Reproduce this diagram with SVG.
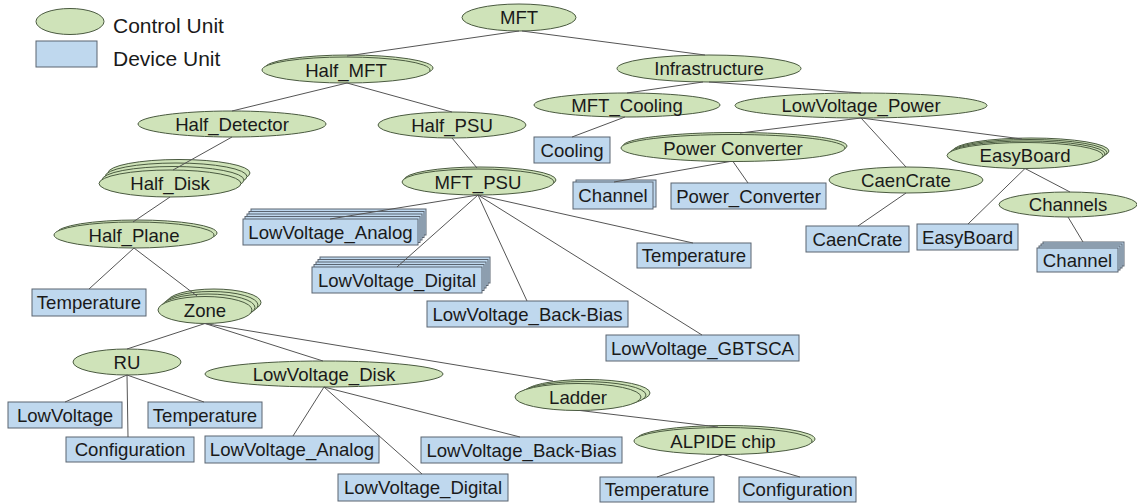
<svg xmlns="http://www.w3.org/2000/svg" width="1137" height="504" viewBox="0 0 1137 504">
  <style>
    .cu { fill: #cfe3b9; stroke: #4a5a40; stroke-width: 1; }
    .du { fill: #bfd8ee; stroke: #5a6470; stroke-width: 1; }
    .lbl { font-family: "Liberation Sans", Arial, sans-serif; font-size: 18.6px; fill: #1a1a1a; text-anchor: middle; }
    .leg { font-family: "Liberation Sans", Arial, sans-serif; font-size: 21px; fill: #1a1a1a; }
    .edge { stroke: #555; stroke-width: 1; fill: none; }
  </style>
  <rect width="1137" height="504" fill="#ffffff"/>

  <!-- legend -->
  <g id="legend">
    <ellipse class="cu" cx="70" cy="21.5" rx="34" ry="13"/>
    <text class="leg" x="113" y="33">Control Unit</text>
    <rect class="du" x="36" y="41" width="61" height="26"/>
    <text class="leg" x="113" y="66">Device Unit</text>
  </g>

  <!-- control units -->
  <g id="mft">
    <ellipse class="cu" cx="519" cy="17.5" rx="57" ry="13.5"/>
    <text class="lbl" x="519" y="24">MFT</text>
  </g>
  <g id="half_mft">
    <ellipse class="cu" cx="349" cy="68" rx="84" ry="13"/>
    <ellipse class="cu" cx="346" cy="70" rx="84" ry="13"/>
    <text class="lbl" x="346" y="76.5">Half_MFT</text>
  </g>
  <g id="infrastructure">
    <ellipse class="cu" cx="709" cy="68.5" rx="92" ry="13.5"/>
    <text class="lbl" x="709" y="75">Infrastructure</text>
  </g>
  <g id="half_detector">
    <ellipse class="cu" cx="232" cy="124" rx="94" ry="13"/>
    <text class="lbl" x="232" y="130.5">Half_Detector</text>
  </g>
  <g id="half_psu">
    <ellipse class="cu" cx="452" cy="125" rx="74" ry="13"/>
    <text class="lbl" x="452" y="131.5">Half_PSU</text>
  </g>
  <g id="mft_cooling">
    <ellipse class="cu" cx="627" cy="105" rx="93" ry="12"/>
    <text class="lbl" x="627" y="111.5">MFT_Cooling</text>
  </g>
  <g id="lowvoltage_power">
    <ellipse class="cu" cx="861" cy="105.5" rx="126" ry="12.5"/>
    <text class="lbl" x="861" y="112">LowVoltage_Power</text>
  </g>
  <g id="power_converter_cu">
    <ellipse class="cu" cx="735" cy="146" rx="112" ry="13.5"/>
    <ellipse class="cu" cx="733" cy="148" rx="112" ry="13.5"/>
    <text class="lbl" x="733" y="154.5">Power Converter</text>
  </g>
  <g id="caencrate_cu">
    <ellipse class="cu" cx="906" cy="180" rx="77" ry="13"/>
    <text class="lbl" x="906" y="186.5">CaenCrate</text>
  </g>
  <g id="easyboard_cu">
    <ellipse class="cu" cx="1031" cy="151" rx="78" ry="13"/>
    <ellipse class="cu" cx="1029" cy="152.5" rx="78" ry="13"/>
    <ellipse class="cu" cx="1027" cy="154" rx="78" ry="13"/>
    <ellipse class="cu" cx="1025" cy="155.5" rx="78" ry="13"/>
    <text class="lbl" x="1025" y="162">EasyBoard</text>
  </g>
  <g id="channels">
    <ellipse class="cu" cx="1068" cy="204.5" rx="69" ry="12.5"/>
    <text class="lbl" x="1068" y="211">Channels</text>
  </g>
  <g id="half_disk">
    <ellipse class="cu" cx="179" cy="173" rx="71" ry="13.5"/>
    <ellipse class="cu" cx="176" cy="176.5" rx="71" ry="13.5"/>
    <ellipse class="cu" cx="173" cy="180" rx="71" ry="13.5"/>
    <ellipse class="cu" cx="170" cy="183.5" rx="71" ry="13.5"/>
    <text class="lbl" x="170" y="190">Half_Disk</text>
  </g>
  <g id="half_plane">
    <ellipse class="cu" cx="137" cy="233" rx="80" ry="13"/>
    <ellipse class="cu" cx="134" cy="235" rx="80" ry="13"/>
    <text class="lbl" x="134" y="241.5">Half_Plane</text>
  </g>
  <g id="mft_psu">
    <ellipse class="cu" cx="480" cy="180" rx="76" ry="13"/>
    <ellipse class="cu" cx="478" cy="182" rx="76" ry="13"/>
    <text class="lbl" x="478" y="188.5">MFT_PSU</text>
  </g>
  <g id="zone">
    <ellipse class="cu" cx="214" cy="302.5" rx="47" ry="13.5"/>
    <ellipse class="cu" cx="211" cy="305" rx="47" ry="13.5"/>
    <ellipse class="cu" cx="208" cy="307.5" rx="47" ry="13.5"/>
    <ellipse class="cu" cx="205" cy="310" rx="47" ry="13.5"/>
    <text class="lbl" x="205" y="316.5">Zone</text>
  </g>
  <g id="ru">
    <ellipse class="cu" cx="127" cy="362" rx="54" ry="13"/>
    <text class="lbl" x="127" y="368.5">RU</text>
  </g>
  <g id="lowvoltage_disk">
    <ellipse class="cu" cx="324" cy="374" rx="119" ry="13"/>
    <text class="lbl" x="324" y="380.5">LowVoltage_Disk</text>
  </g>
  <g id="ladder">
    <ellipse class="cu" cx="587" cy="393" rx="63" ry="13.5"/>
    <ellipse class="cu" cx="583" cy="395" rx="63" ry="13.5"/>
    <ellipse class="cu" cx="578" cy="397" rx="63" ry="13.5"/>
    <text class="lbl" x="578" y="403.5">Ladder</text>
  </g>
  <g id="alpide_chip">
    <ellipse class="cu" cx="726" cy="439" rx="89" ry="13.5"/>
    <ellipse class="cu" cx="723" cy="441" rx="89" ry="13.5"/>
    <text class="lbl" x="723" y="447.5">ALPIDE chip</text>
  </g>

  <!-- device units -->
  <g id="cooling">
    <rect class="du" x="534" y="137" width="76" height="26"/>
    <text class="lbl" x="572" y="156.5">Cooling</text>
  </g>
  <g id="channel_pc">
    <rect class="du" x="576" y="180" width="80" height="27"/>
    <rect class="du" x="573" y="182" width="80" height="27"/>
    <text class="lbl" x="613" y="202">Channel</text>
  </g>
  <g id="power_converter_du">
    <rect class="du" x="671" y="183" width="155" height="26"/>
    <text class="lbl" x="748.5" y="202.5">Power_Converter</text>
  </g>
  <g id="caencrate_du">
    <rect class="du" x="806" y="226" width="103" height="26"/>
    <text class="lbl" x="857.5" y="245.5">CaenCrate</text>
  </g>
  <g id="easyboard_du">
    <rect class="du" x="917" y="224" width="101" height="26"/>
    <text class="lbl" x="967.5" y="243.5">EasyBoard</text>
  </g>
  <g id="channel_stack">
    <rect class="du" x="1043" y="242" width="81" height="24"/>
    <rect class="du" x="1041" y="244" width="81" height="24"/>
    <rect class="du" x="1039" y="246" width="81" height="24"/>
    <rect class="du" x="1037" y="248" width="81" height="24"/>
    <text class="lbl" x="1077.5" y="266.5">Channel</text>
  </g>
  <g id="lv_analog_psu">
    <rect class="du" x="251" y="209" width="175" height="26"/>
    <rect class="du" x="249" y="211.5" width="175" height="26"/>
    <rect class="du" x="247" y="214" width="175" height="26"/>
    <rect class="du" x="245" y="216.5" width="175" height="26"/>
    <rect class="du" x="243" y="219" width="175" height="26"/>
    <text class="lbl" x="330.5" y="238.5">LowVoltage_Analog</text>
  </g>
  <g id="lv_digital_psu">
    <rect class="du" x="320" y="257" width="170" height="26"/>
    <rect class="du" x="318" y="259.5" width="170" height="26"/>
    <rect class="du" x="316" y="262" width="170" height="26"/>
    <rect class="du" x="314" y="264.5" width="170" height="26"/>
    <rect class="du" x="312" y="267" width="170" height="26"/>
    <text class="lbl" x="397" y="286.5">LowVoltage_Digital</text>
  </g>
  <g id="temperature_psu">
    <rect class="du" x="637" y="243" width="114" height="25"/>
    <text class="lbl" x="694" y="262">Temperature</text>
  </g>
  <g id="lv_backbias_psu">
    <rect class="du" x="427" y="301" width="201" height="26"/>
    <text class="lbl" x="527.5" y="320.5">LowVoltage_Back-Bias</text>
  </g>
  <g id="lv_gbtsca">
    <rect class="du" x="606" y="335" width="193" height="26"/>
    <text class="lbl" x="702.5" y="354.5">LowVoltage_GBTSCA</text>
  </g>
  <g id="temperature_plane">
    <rect class="du" x="32" y="289" width="114" height="27"/>
    <text class="lbl" x="89" y="309">Temperature</text>
  </g>
  <g id="lowvoltage_ru">
    <rect class="du" x="8" y="402" width="114" height="26"/>
    <text class="lbl" x="65" y="421.5">LowVoltage</text>
  </g>
  <g id="configuration_ru">
    <rect class="du" x="66" y="437" width="128" height="25"/>
    <text class="lbl" x="130" y="456">Configuration</text>
  </g>
  <g id="temperature_ru">
    <rect class="du" x="148" y="402" width="114" height="26"/>
    <text class="lbl" x="205" y="421.5">Temperature</text>
  </g>
  <g id="lv_analog_disk">
    <rect class="du" x="205" y="436" width="174" height="27"/>
    <text class="lbl" x="292" y="456">LowVoltage_Analog</text>
  </g>
  <g id="lv_digital_disk">
    <rect class="du" x="338" y="474" width="170" height="27"/>
    <text class="lbl" x="423" y="494">LowVoltage_Digital</text>
  </g>
  <g id="lv_backbias_disk">
    <rect class="du" x="421" y="437" width="201" height="26"/>
    <text class="lbl" x="521.5" y="456.5">LowVoltage_Back-Bias</text>
  </g>
  <g id="temperature_chip">
    <rect class="du" x="600" y="477" width="114" height="25"/>
    <text class="lbl" x="657" y="496">Temperature</text>
  </g>
  <g id="configuration_chip">
    <rect class="du" x="739" y="477" width="117" height="25"/>
    <text class="lbl" x="797.5" y="496">Configuration</text>
  </g>

  <!-- parent-to-child connectors -->
  <g id="connectors" class="edge">
    <line x1="519" y1="31" x2="347" y2="56"/>
    <line x1="522" y1="31" x2="705" y2="55"/>
    <line x1="347" y1="83" x2="232" y2="111"/>
    <line x1="347" y1="83" x2="452" y2="112"/>
    <line x1="703" y1="82" x2="627" y2="93"/>
    <line x1="709" y1="82" x2="861" y2="93"/>
    <line x1="625" y1="117" x2="572" y2="137"/>
    <line x1="861" y1="118" x2="740" y2="133"/>
    <line x1="861" y1="118" x2="906" y2="167"/>
    <line x1="861" y1="118" x2="1022" y2="139"/>
    <line x1="730" y1="161.5" x2="614" y2="182"/>
    <line x1="733" y1="161.5" x2="748" y2="183"/>
    <line x1="906" y1="193" x2="858" y2="226"/>
    <line x1="1025" y1="168.5" x2="968" y2="224"/>
    <line x1="1025" y1="168.5" x2="1070" y2="192"/>
    <line x1="1068" y1="217" x2="1083" y2="242"/>
    <line x1="232" y1="137" x2="173" y2="170"/>
    <line x1="170" y1="197" x2="133" y2="222"/>
    <line x1="134" y1="248" x2="89" y2="289"/>
    <line x1="134" y1="248" x2="197" y2="296"/>
    <line x1="452" y1="138" x2="477" y2="168"/>
    <line x1="478" y1="195" x2="330" y2="219"/>
    <line x1="478" y1="195" x2="397" y2="267"/>
    <line x1="478" y1="195" x2="527" y2="301"/>
    <line x1="478" y1="195" x2="693" y2="243"/>
    <line x1="478" y1="195" x2="702" y2="335"/>
    <line x1="205" y1="323.5" x2="127" y2="349"/>
    <line x1="205" y1="323.5" x2="323" y2="361"/>
    <line x1="205" y1="323.5" x2="553" y2="381"/>
    <line x1="127" y1="375" x2="65" y2="402"/>
    <line x1="127" y1="375" x2="128" y2="437"/>
    <line x1="127" y1="375" x2="204" y2="402"/>
    <line x1="324" y1="387" x2="293" y2="436"/>
    <line x1="324" y1="387" x2="422" y2="474"/>
    <line x1="324" y1="387" x2="520" y2="437"/>
    <line x1="580" y1="410.5" x2="718" y2="427"/>
    <line x1="723" y1="454.5" x2="657" y2="477"/>
    <line x1="723" y1="454.5" x2="800" y2="477"/>
  </g>
</svg>
